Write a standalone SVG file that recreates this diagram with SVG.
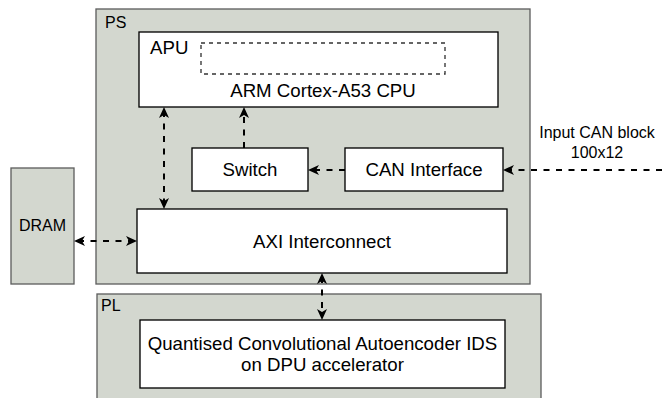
<svg xmlns="http://www.w3.org/2000/svg" width="662" height="398" viewBox="0 0 662 398">
<style>
.grp{fill:#d3d7cf;stroke:#5f5f5f;stroke-width:1.33}
.box{fill:#ffffff;stroke:#000000;stroke-width:1.33}
.t{font-family:"Liberation Sans",Arial,sans-serif;fill:#000000}
.m{font-size:18.67px;text-anchor:middle}
.s{font-size:16px}
.c{fill:none;stroke:#000000;stroke-width:2;stroke-dasharray:6 6.5}
</style>
<defs>
<marker id="ah" viewBox="-8 -6 13 12" refX="0" refY="0" markerWidth="13" markerHeight="12" markerUnits="userSpaceOnUse" orient="auto-start-reverse">
<path d="M4,0 L-7,-5 L-4,0 L-7,5 Z" fill="#000000"/>
</marker>
</defs>
<g id="ps">
<rect class="grp" x="96" y="9" width="434" height="275"/>
<text class="t s" x="105" y="28">PS</text>
</g>
<g id="pl">
<rect class="grp" x="97" y="294" width="444" height="110"/>
<text class="t s" x="101" y="311">PL</text>
</g>
<g id="dram">
<rect class="grp" x="11" y="168" width="63" height="116"/>
<text class="t s" x="42.5" y="231" text-anchor="middle">DRAM</text>
</g>
<g id="apu">
<rect class="box" x="139" y="32" width="359" height="75"/>
<rect x="201" y="43" width="244" height="31" fill="none" stroke="#333333" stroke-width="1.33" stroke-dasharray="4 4"/>
<text class="t" x="150" y="54" font-size="18.67">APU</text>
<text class="t m" x="323" y="97">ARM Cortex-A53 CPU</text>
</g>
<g id="switch">
<rect class="box" x="192" y="148" width="116" height="43"/>
<text class="t m" x="250" y="176">Switch</text>
</g>
<g id="can">
<rect class="box" x="345" y="148" width="158" height="43"/>
<text class="t m" x="424" y="176">CAN Interface</text>
</g>
<g id="axi">
<rect class="box" x="137" y="209" width="370" height="64"/>
<text class="t m" x="322" y="248">AXI Interconnect</text>
</g>
<g id="dpu">
<rect class="box" x="140" y="320" width="365" height="68"/>
<text class="t m" x="322.5" y="350">Quantised Convolutional Autoencoder IDS</text>
<text class="t m" x="322.5" y="371">on DPU accelerator</text>
</g>
<g id="input-label">
<text class="t s" x="597" y="138" text-anchor="middle">Input CAN block</text>
<text class="t s" x="597" y="158" text-anchor="middle">100x12</text>
</g>
<g id="connectors">
<line class="c" x1="164" y1="111" x2="164" y2="205" marker-start="url(#ah)" marker-end="url(#ah)"/>
<line class="c" x1="244" y1="148" x2="244" y2="111" marker-end="url(#ah)"/>
<line class="c" x1="345" y1="170" x2="312" y2="170" marker-end="url(#ah)"/>
<line class="c" x1="662" y1="170" x2="507" y2="170" marker-end="url(#ah)"/>
<line class="c" x1="78" y1="241" x2="133" y2="241" marker-start="url(#ah)" marker-end="url(#ah)"/>
<line class="c" x1="322" y1="277" x2="322" y2="316" marker-start="url(#ah)" marker-end="url(#ah)"/>
</g>
</svg>
